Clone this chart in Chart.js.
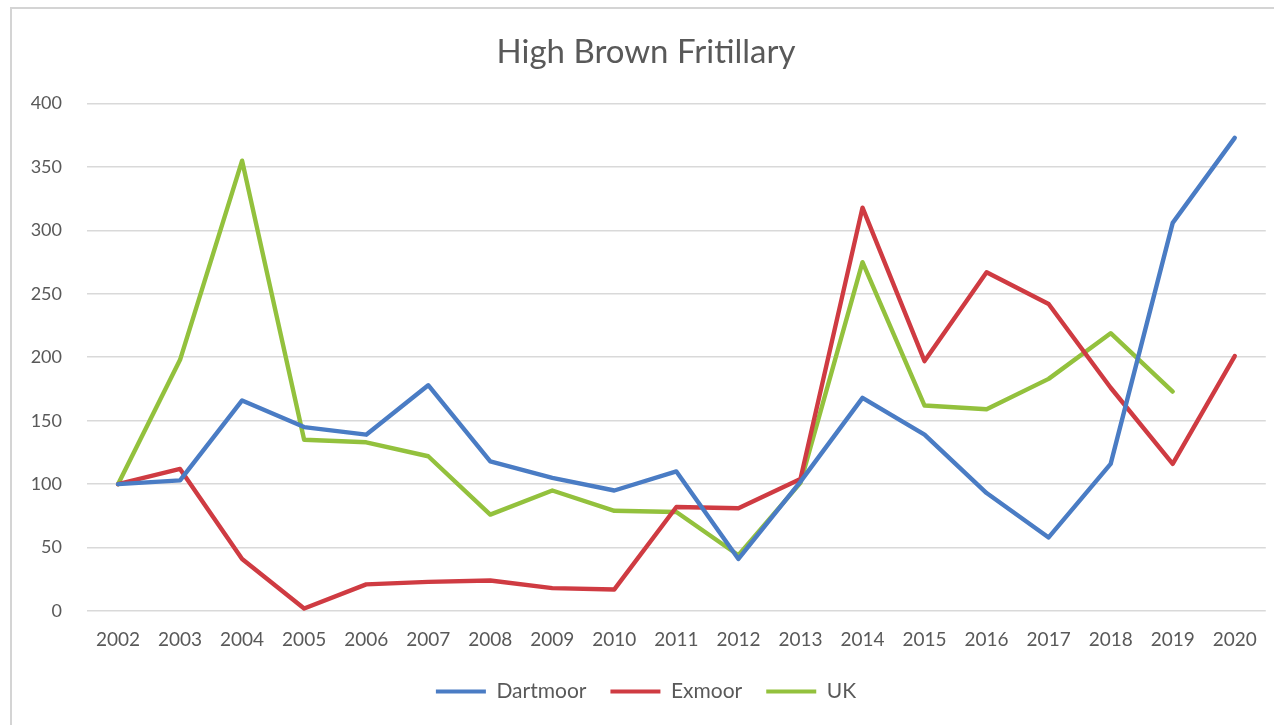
<!DOCTYPE html>
<html>
<head>
<meta charset="utf-8">
<script src="https://cdn.jsdelivr.net/npm/chart.js@4/dist/chart.umd.min.js"></script>
<style>
  html, body { margin: 0; padding: 0; background: #ffffff; }
  #wrap { position: relative; width: 1274px; height: 725px; }
  #chart { position: absolute; left: 0; top: 0; }
  /* thin frame along the top and left edge of the chart area */
  #frame {
    position: absolute; left: 10px; top: 7px; right: 0; bottom: 0;
    border-left: 2px solid #d4d4d4; border-top: 2px solid #d4d4d4;
    pointer-events: none;
  }
</style>
</head>
<body>
<div id="wrap">
  <canvas id="chart" width="1274" height="725"></canvas>
  <div id="frame"></div>
</div>
<script>
// Index values per year (2002 = 100)
const years = ['2002','2003','2004','2005','2006','2007','2008','2009','2010','2011',
               '2012','2013','2014','2015','2016','2017','2018','2019','2020'];
const dartmoor = [100, 103, 166, 145, 139, 178, 118, 105, 95, 110, 41, 102, 168, 139, 93, 58, 116, 306, 373];
const exmoor   = [100, 112, 41, 2, 21, 23, 24, 18, 17, 82, 81, 104, 318, 197, 267, 242, 176, 116, 201];
const uk       = [100, 198, 355, 135, 133, 122, 76, 95, 79, 78, 44, 101, 275, 162, 159, 183, 219, 173, null];
const yTicks   = [0, 50, 100, 150, 200, 250, 300, 350, 400];

const FONT = 'Lato, "Open Sans", sans-serif';
const TEXT = '#595959';

function series(label, data, color) {
  return {
    label, data,
    borderColor: color, backgroundColor: color,
    borderWidth: 4.4, pointRadius: 0, pointHoverRadius: 0,
    tension: 0, borderJoinStyle: 'round', borderCapStyle: 'round',
    spanGaps: false
  };
}

new Chart(document.getElementById('chart'), {
  type: 'line',
  data: {
    labels: years,
    datasets: [
      series('Dartmoor', dartmoor, '#4a7cc4'),
      series('Exmoor', exmoor, '#cf3b42'),
      series('UK', uk, '#93c13d')
    ]
  },
  options: {
    responsive: false,
    animation: false,
    layout: { padding: { left: 26, right: 8, top: 0, bottom: 13 } },
    plugins: {
      title: {
        display: true,
        text: 'High Brown Fritillary',
        color: TEXT,
        font: { family: FONT, size: 33, weight: 'normal' },
        padding: { top: 33, bottom: 31 }
      },
      legend: {
        display: true,
        position: 'bottom',
        labels: {
          color: TEXT,
          font: { family: FONT, size: 21 },
          boxWidth: 50,
          boxHeight: 4,
          padding: 24,
          generateLabels(chart) {
            return chart.data.datasets.map((ds, i) => ({
              text: ds.label,
              fillStyle: ds.borderColor,
              strokeStyle: ds.borderColor,
              lineWidth: 0,
              fontColor: TEXT,
              hidden: !chart.isDatasetVisible(i),
              datasetIndex: i
            }));
          }
        }
      },
      tooltip: { enabled: false }
    },
    scales: {
      x: {
        offset: true,
        grid: { display: false, drawTicks: false },
        border: { display: false },
        ticks: { color: TEXT, font: { family: FONT, size: 19 }, padding: 17, maxRotation: 0, autoSkip: false },
        afterFit(scale) { scale.height = 46; }
      },
      y: {
        min: 0, max: 400,
        afterBuildTicks(scale) { scale.ticks = yTicks.map(v => ({ value: v })); },
        grid: { color: '#d9d9d9', lineWidth: 1.6, drawTicks: false },
        border: { display: false },
        ticks: { color: TEXT, font: { family: FONT, size: 18 }, padding: 25 },
        afterFit(scale) { scale.width = 61; }
      }
    }
  }
});
</script>
</body>
</html>
